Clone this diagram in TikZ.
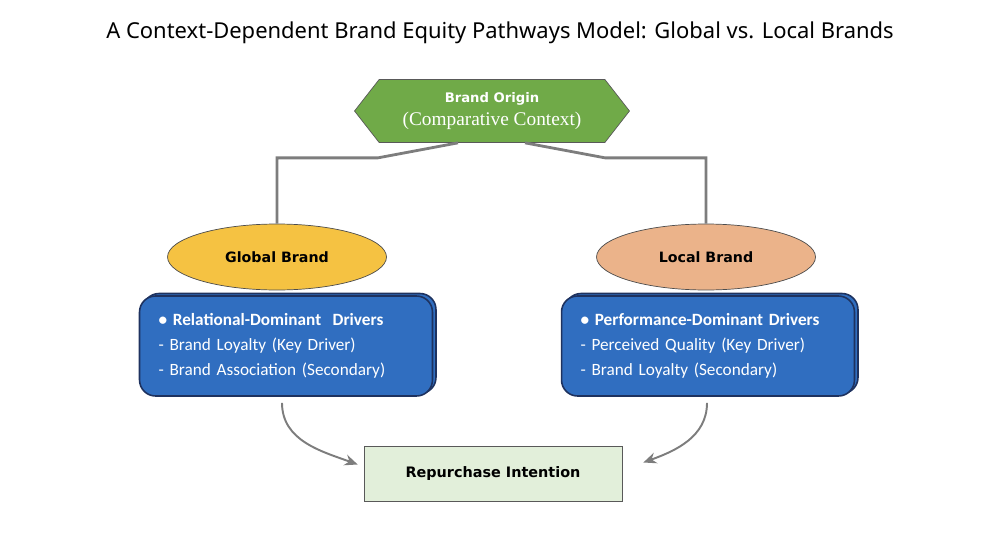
\documentclass[tikz,border=0pt]{standalone}
\usepackage{fontspec}
\setmainfont{Carlito}
\newfontfamily\titlefont{Noto Sans}
\newfontfamily\labelfont{DejaVu Sans}
\newfontfamily\seriffont{Liberation Serif}
\usetikzlibrary{positioning,arrows.meta,shapes.geometric,shapes.symbols,shadows}
\definecolor{origingreen}{RGB}{112,170,72}
\definecolor{globalyellow}{RGB}{245,194,66}
\definecolor{localpeach}{RGB}{235,179,138}
\definecolor{driverblue}{RGB}{48,110,192}
\definecolor{drivernavy}{RGB}{30,50,95}
\definecolor{outcomegreen}{RGB}{226,239,218}
\definecolor{linkgray}{RGB}{125,125,125}
\tikzset{
  linkline/.style={line width=1.6pt, draw=linkgray},
  curvearrow/.style={-{Stealth[length=2.6mm, width=2.2mm]}, line width=1.1pt, draw=linkgray},
  originnode/.style={signal, signal to=west and east, signal pointer angle=104, draw=gray!70!black, fill=origingreen, minimum width=5.5cm, minimum height=1.26cm, inner sep=0pt, align=center, text=white},
  brandnode/.style={ellipse, draw=gray!60!black, minimum width=4.38cm, minimum height=1.32cm, font=\labelfont\bfseries\fontsize{8.1}{10}\selectfont},
  driverbox/.style={draw=drivernavy, line width=0.9pt, rounded corners=0.32cm, fill=driverblue, text=white, text width=5.1cm, inner xsep=0.38cm, minimum height=2cm, align=left, copy shadow={shadow xshift=0.07cm, shadow yshift=0.05cm}, font=\fontsize{9.8}{14.2}\selectfont},
  outcomebox/.style={draw=gray!70!black, fill=outcomegreen, minimum width=5.16cm, minimum height=1.1cm, font=\labelfont\bfseries\fontsize{8.2}{10}\selectfont}
}

\begin{document}
\begin{tikzpicture}[x=0.02cm, y=-0.02cm]
  \useasboundingbox (0,0) rectangle (982,537);
  \node[font=\titlefont\fontsize{12.5}{15}\selectfont] (title) at (500,33) {A Context-Dependent Brand Equity Pathways Model: Global vs. Local Brands};
  \node[originnode] (origin) at (492,111) {{\labelfont\bfseries\fontsize{7.5}{9}\selectfont Brand Origin}\\[1pt]{\seriffont\fontsize{11}{12}\selectfont (Comparative Context)}};
  \node[brandnode, fill=globalyellow] (global) at (277,257) {Global Brand};
  \node[brandnode, fill=localpeach] (local) at (706,257) {Local Brand};
  \node[driverbox] (relbox) at (286,346) {\textbf{\textbullet\ Relational-Dominant\ \ Drivers}\\- Brand Loyalty (Key Driver)\\- Brand Association (Secondary)};
  \node[driverbox] (perfbox) at (708,346) {\textbf{\textbullet\ Performance-Dominant Drivers}\\- Perceived Quality (Key Driver)\\- Brand Loyalty (Secondary)};
  \node[outcomebox] (outcome) at (493,474) {Repurchase Intention};
  \draw[linkline] ([xshift=-0.68cm]origin.south) -- ++(-80,15) -| (global.north);
  \draw[linkline] ([xshift=0.66cm]origin.south) -- ++(80,15) -| (local.north);
  \draw[curvearrow] ([xshift=-0.08cm, yshift=-0.12cm]relbox.south) to[out=-90, in=160] ([xshift=-0.12cm, yshift=0.19cm]outcome.west);
  \draw[curvearrow] ([xshift=-0.02cm, yshift=-0.12cm]perfbox.south) to[out=-90, in=20] ([xshift=0.42cm, yshift=0.23cm]outcome.east);
\end{tikzpicture}
\end{document}
